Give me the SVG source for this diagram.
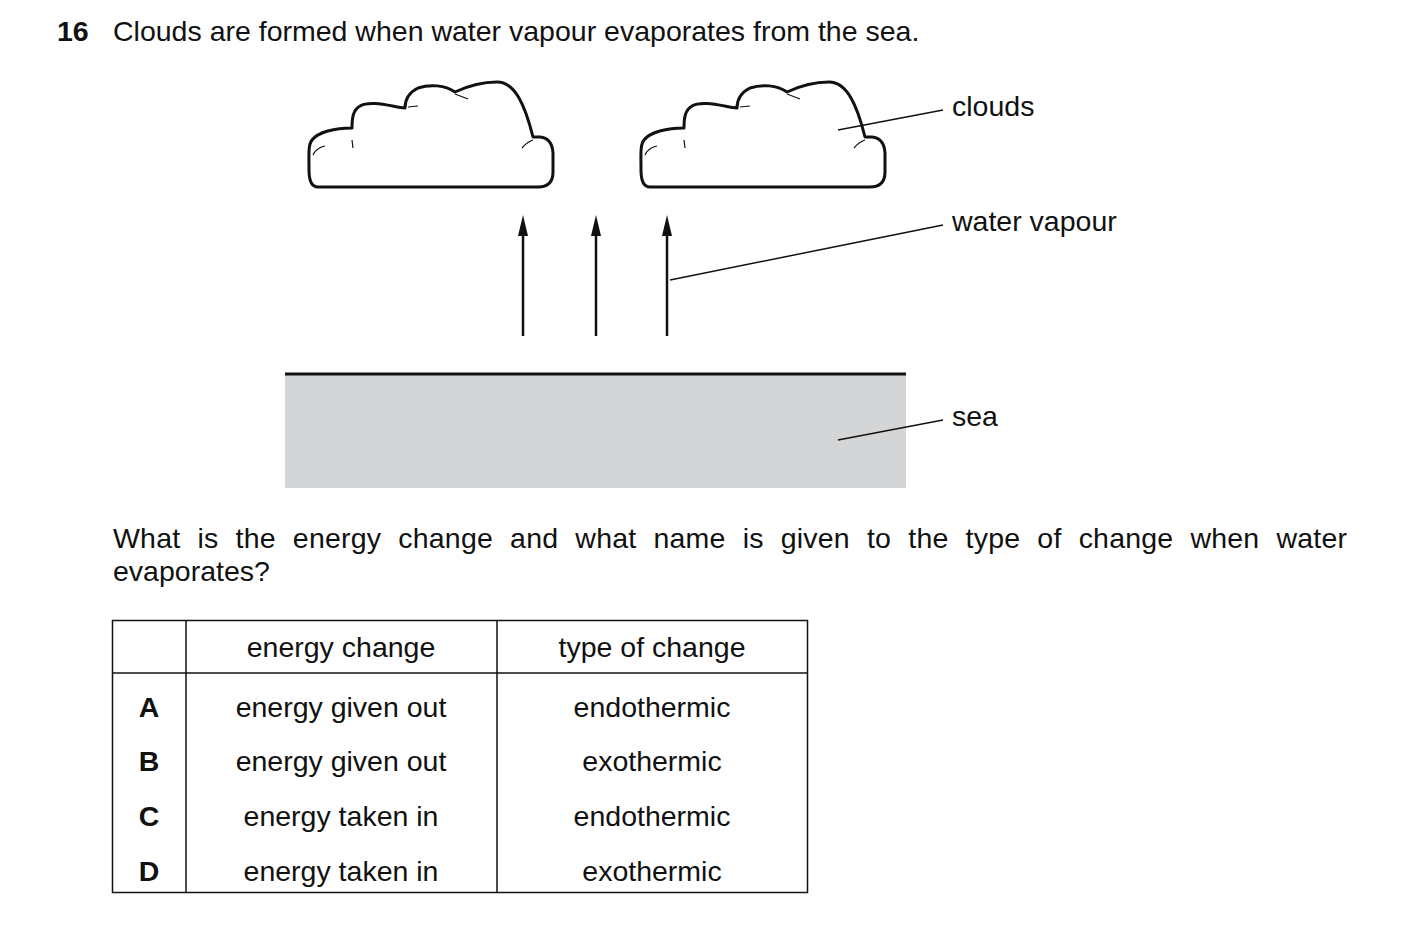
<svg xmlns="http://www.w3.org/2000/svg" width="1403" height="943" viewBox="0 0 1403 943">
<style>
text{font-family:"Liberation Sans",Arial,sans-serif;font-size:28.5px;fill:#111}
.b{font-weight:bold}
.c{text-anchor:middle}
.ln{stroke:#111;stroke-width:1.5;fill:none}
.cl{stroke:#111;stroke-width:3;fill:#fff;stroke-linejoin:round}
.d{stroke:#111;stroke-width:1.2;fill:none}
.ar{stroke:#111;stroke-width:2.5}
</style>
<defs>
<g id="cloud">
<path class="cl" d="M318,187 L538,187 Q553,187 553,172 L553,153 Q552,138 540,137 L533,137 C525,105 515,82 497,82 C485,82 470,85 455,92 C445,85 430,84 418,88 C410,92 405,98 405,108 C390,106 370,100 360,106 C353,110 352,118 352,128 C335,128 318,132 312,140 C308,145 309,155 309,170 C309,182 312,187 318,187 Z"/>
<path class="d" d="M313,155 Q316,148 325,146 M352,140 L353,148 M408,107 L418,106 M455,94 L468,99 M533,140 Q527,142 522,148"/>
</g>
</defs>
<text class="b" x="57" y="41">16</text>
<text x="113" y="41">Clouds are formed when water vapour evaporates from the sea.</text>
<g id="cloud1"><use href="#cloud"/></g>
<g id="cloud2"><use href="#cloud" transform="translate(332,0)"/></g>
<g id="sea">
<rect x="285" y="374" width="621" height="114" fill="#d4d5d7"/>
<line x1="285" y1="374" x2="906" y2="374" stroke="#111" stroke-width="3"/>
</g>
<g id="connectors">
<line class="ar" x1="523" y1="336" x2="523" y2="230"/>
<polygon points="523,215 528,236 518,236" fill="#111"/>
<line class="ar" x1="596" y1="336" x2="596" y2="230"/>
<polygon points="596,215 601,236 591,236" fill="#111"/>
<line class="ar" x1="667" y1="336" x2="667" y2="230"/>
<polygon points="667,215 672,236 662,236" fill="#111"/>
<line class="ln" x1="838" y1="130" x2="943" y2="110"/>
<line class="ln" x1="670" y1="280" x2="943" y2="225"/>
<line class="ln" x1="838" y1="440" x2="943" y2="420"/>
</g>
<text x="952" y="116">clouds</text>
<text x="952" y="231">water vapour</text>
<text x="952" y="426">sea</text>
<text x="113" y="548" word-spacing="9" textLength="1234" lengthAdjust="spacing">What is the energy change and what name is given to the type of change when water</text>
<text x="113" y="581">evaporates?</text>
<g id="table">
<rect x="112.5" y="620.5" width="695" height="272" fill="none" stroke="#111" stroke-width="1.5"/>
<line class="ln" x1="186" y1="620" x2="186" y2="893"/>
<line class="ln" x1="497" y1="620" x2="497" y2="893"/>
<line class="ln" x1="112" y1="673" x2="808" y2="673"/>
<text class="c" x="341" y="657">energy change</text>
<text class="c" x="652" y="657">type of change</text>
<text class="b c" x="149" y="717">A</text>
<text class="c" x="341" y="717">energy given out</text>
<text class="c" x="652" y="717">endothermic</text>
<text class="b c" x="149" y="771">B</text>
<text class="c" x="341" y="771">energy given out</text>
<text class="c" x="652" y="771">exothermic</text>
<text class="b c" x="149" y="826">C</text>
<text class="c" x="341" y="826">energy taken in</text>
<text class="c" x="652" y="826">endothermic</text>
<text class="b c" x="149" y="881">D</text>
<text class="c" x="341" y="881">energy taken in</text>
<text class="c" x="652" y="881">exothermic</text>
</g>
</svg>
